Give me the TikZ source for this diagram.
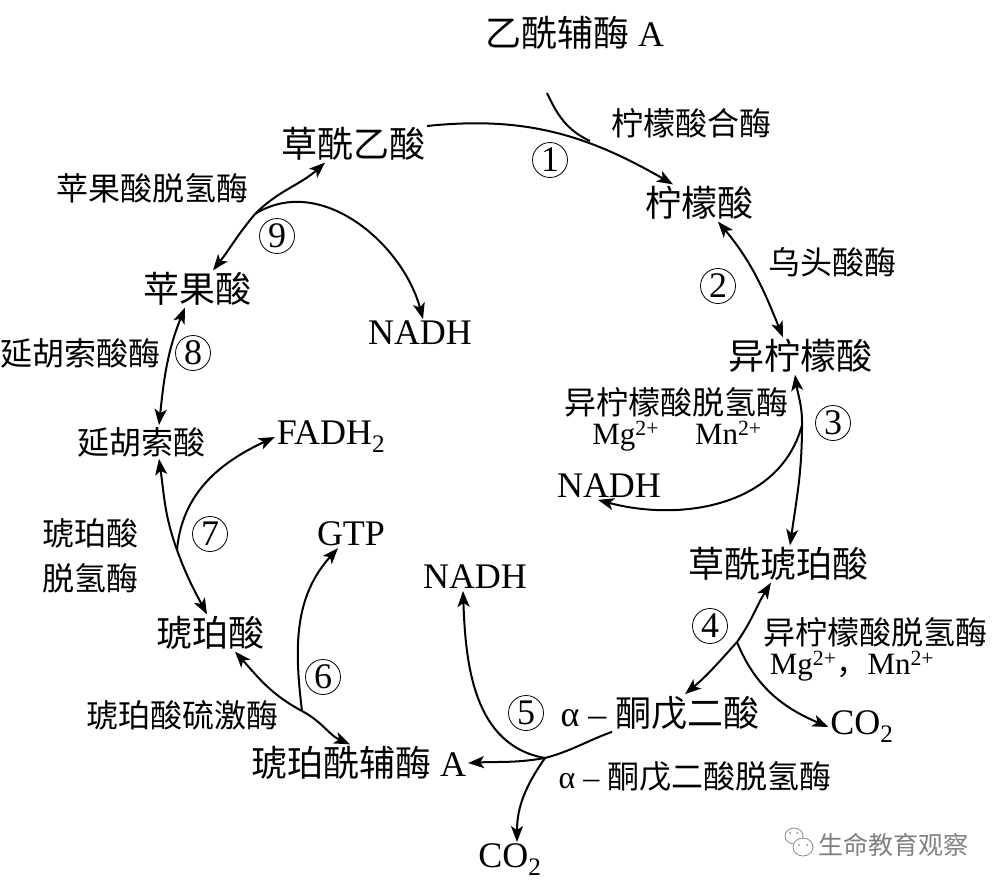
\documentclass[tikz,border=0pt]{standalone}
\usepackage{fontspec}
\setmainfont{Liberation Serif}
\newfontfamily\cjk{Noto Sans CJK SC}
\usetikzlibrary{arrows.meta}
\tikzset{
	big/.style={inner sep=0pt,outer sep=2pt,font=\cjk\fontsize{36}{40}\selectfont},
	small/.style={inner sep=0pt,outer sep=2pt,font=\cjk\fontsize{32}{36}\selectfont},
	latin/.style={inner sep=0pt,outer sep=2pt,font=\fontsize{36}{40}\selectfont},
	ion/.style={inner sep=0pt,font=\fontsize{31}{36}\selectfont},
	stepmark/.style={draw,circle,line width=0.8pt,minimum size=35pt,inner sep=0pt,font=\fontsize{36}{40}\selectfont},
	arr/.style={-{Stealth[length=16pt,width=12pt,inset=4pt]}},
	twoarr/.style={{Stealth[length=16pt,width=12pt,inset=4pt]}-{Stealth[length=16pt,width=12pt,inset=4pt]}}
}
\begin{document}
\begin{tikzpicture}[x=1pt,y=-1pt,line width=2pt,line join=round]
	\useasboundingbox (0,0) rectangle (1000,888);
	% compounds
	\node[big] (acoa) at (575,33) {乙酰辅酶 {\rmfamily A}};
	\node[big] (oaa) at (353,144) {草酰乙酸};
	\node[big] (cit) at (699,203) {柠檬酸};
	\node[big] (iso) at (800,356) {异柠檬酸};
	\node[big] (oxs) at (778,564) {草酰琥珀酸};
	\node[big] (akg) at (660,713) {{\rmfamily α – }酮戊二酸};
	\node[big] (sca) at (359,763) {琥珀酰辅酶 {\rmfamily A}};
	\node[big] (suc) at (210,633) {琥珀酸};
	\node[small] (fum) at (141,442) {延胡索酸};
	\node[big] (mal) at (197,289) {苹果酸};
	% products
	\node[latin] (nadh1) at (609,486) {NADH};
	\node[latin] (co1) at (862,727) {CO\textsubscript{2}};
	\node[latin] (nadh2) at (475,577) {NADH};
	\node[latin] (co2) at (510,860) {CO\textsubscript{2}};
	\node[latin] (gtp) at (351,534) {GTP};
	\node[latin] (fadh) at (331,437) {FADH\textsubscript{2}};
	\node[latin] (nadh3) at (420,333) {NADH};
	% enzymes
	\node[small] (csy) at (691,123) {柠檬酸合酶};
	\node[small] (aco) at (832,262) {乌头酸酶};
	\node[small] (idh) at (676,402) {异柠檬酸脱氢酶};
	\node[ion] (idhion) at (677,436) {Mg\textsuperscript{2+}\hspace{36pt}Mn\textsuperscript{2+}};
	\node[small] (idhb) at (875,632) {异柠檬酸脱氢酶};
	\node[ion] (idhbion) at (852,666) {Mg\textsuperscript{2+}{\cjk ，}Mn\textsuperscript{2+}};
	\node[small] (kgdh) at (695,777) {{\rmfamily α – }酮戊二酸脱氢酶};
	\node[small] (scs) at (182,715) {琥珀酸硫激酶};
	\node[small] (sdha) at (90,533) {琥珀酸};
	\node[small] (sdhb) at (90,578) {脱氢酶};
	\node[small] (fumase) at (80,353) {延胡索酸酶};
	\node[small] (mdh) at (152,188) {苹果酸脱氢酶};
	% steps
	\node[stepmark] (s1) at (550,160) {1};
	\node[stepmark] (s2) at (718,286) {2};
	\node[stepmark] (s3) at (833,423) {3};
	\node[stepmark] (s4) at (710,626) {4};
	\node[stepmark] (s5) at (526,713) {5};
	\node[stepmark] (s6) at (323,677) {6};
	\node[stepmark] (s7) at (210,534) {7};
	\node[stepmark] (s8) at (193,353) {8};
	\node[stepmark] (s9) at (277,236) {9};
	% branch points
	\coordinate (acoaend) at (547,93);
	\coordinate (j1) at (590,141);
	\coordinate (j3) at (802,425);
	\coordinate (j4) at (737,642);
	\coordinate (j5) at (545,758);
	\coordinate (j6) at (302,711);
	\coordinate (j7) at (177,550);
	\coordinate (j9) at (255,214);
	% connectors
	\draw[arr] (oaa.east) ++(0,-18) to[out=6,in=150] ([xshift=-26]cit.north);
	\draw (acoaend) to[out=-65,in=155] (j1);
	\draw[twoarr] ([xshift=19]cit.south) to[out=-50,in=112] ([xshift=-17]iso.north);
	\draw[arr] (j3) to[out=89,in=-82] ([xshift=-5]iso.south);
	\draw[arr] (j3) to[out=-90,in=82] ([xshift=12]oxs.north);
	\draw[arr] (j3) to[out=-105,in=-15] ([xshift=-11]nadh1.south);
	\draw[arr] (j4) to[out=55,in=-122] ([xshift=-7]oxs.south);
	\draw[arr] (j4) to[out=-132,in=40] ([xshift=25]akg.north);
	\draw[arr] (j4) to[out=-68,in=157] (co1.west);
	\draw ([xshift=-48]akg.south) to[out=-160,in=15] (j5);
	\draw[arr] (j5) to[out=-170,in=3] (sca.east);
	\draw[arr] (j5) to[out=170,in=-88] ([xshift=-12]nadh2.south);
	\draw[arr] (j5) to[out=-125,in=90] ([xshift=7]co2.north);
	\draw[arr] (j6) to[out=152,in=-48] ([xshift=25]suc.south);
	\draw[arr] (j6) to[out=-28,in=156] ([xshift=-9]sca.north);
	\draw[arr] (j6) to[out=97,in=-132] ([xshift=-13]gtp.south);
	\draw[arr] (j7) to[out=-70,in=118] ([xshift=-3]suc.north);
	\draw[arr] (j7) to[out=110,in=-82] ([xshift=18]fum.south);
	\draw[arr] (j7) to[out=85,in=205] (fadh.west);
	\draw[twoarr] ([xshift=-12]mal.south) to[out=-112,in=84] ([xshift=18]fum.north);
	\draw[arr] (j9) to[out=45,in=-138] ([xshift=-28]oaa.south);
	\draw[arr] (j9) to[out=-130,in=52] ([xshift=16]mal.north);
	\draw[arr] (j9) to[out=32,in=105] ([xshift=3]nadh3.north);
	% watermark
	\node[inner sep=0pt,text=black!50,font=\cjk\fontsize{25}{28}\selectfont] (wm) at (893,845) {生命教育观察};
	\draw[black!45,line width=0.8pt,fill=white] (794,836) ellipse (9 and 8);
	\draw[black!45,line width=0.8pt,fill=white] (803,847) ellipse (10 and 9);
	\fill[black!45] (790,833) circle (1) (797,833) circle (1) (799,845) circle (1) (807,845) circle (1);
\end{tikzpicture}
\end{document}
